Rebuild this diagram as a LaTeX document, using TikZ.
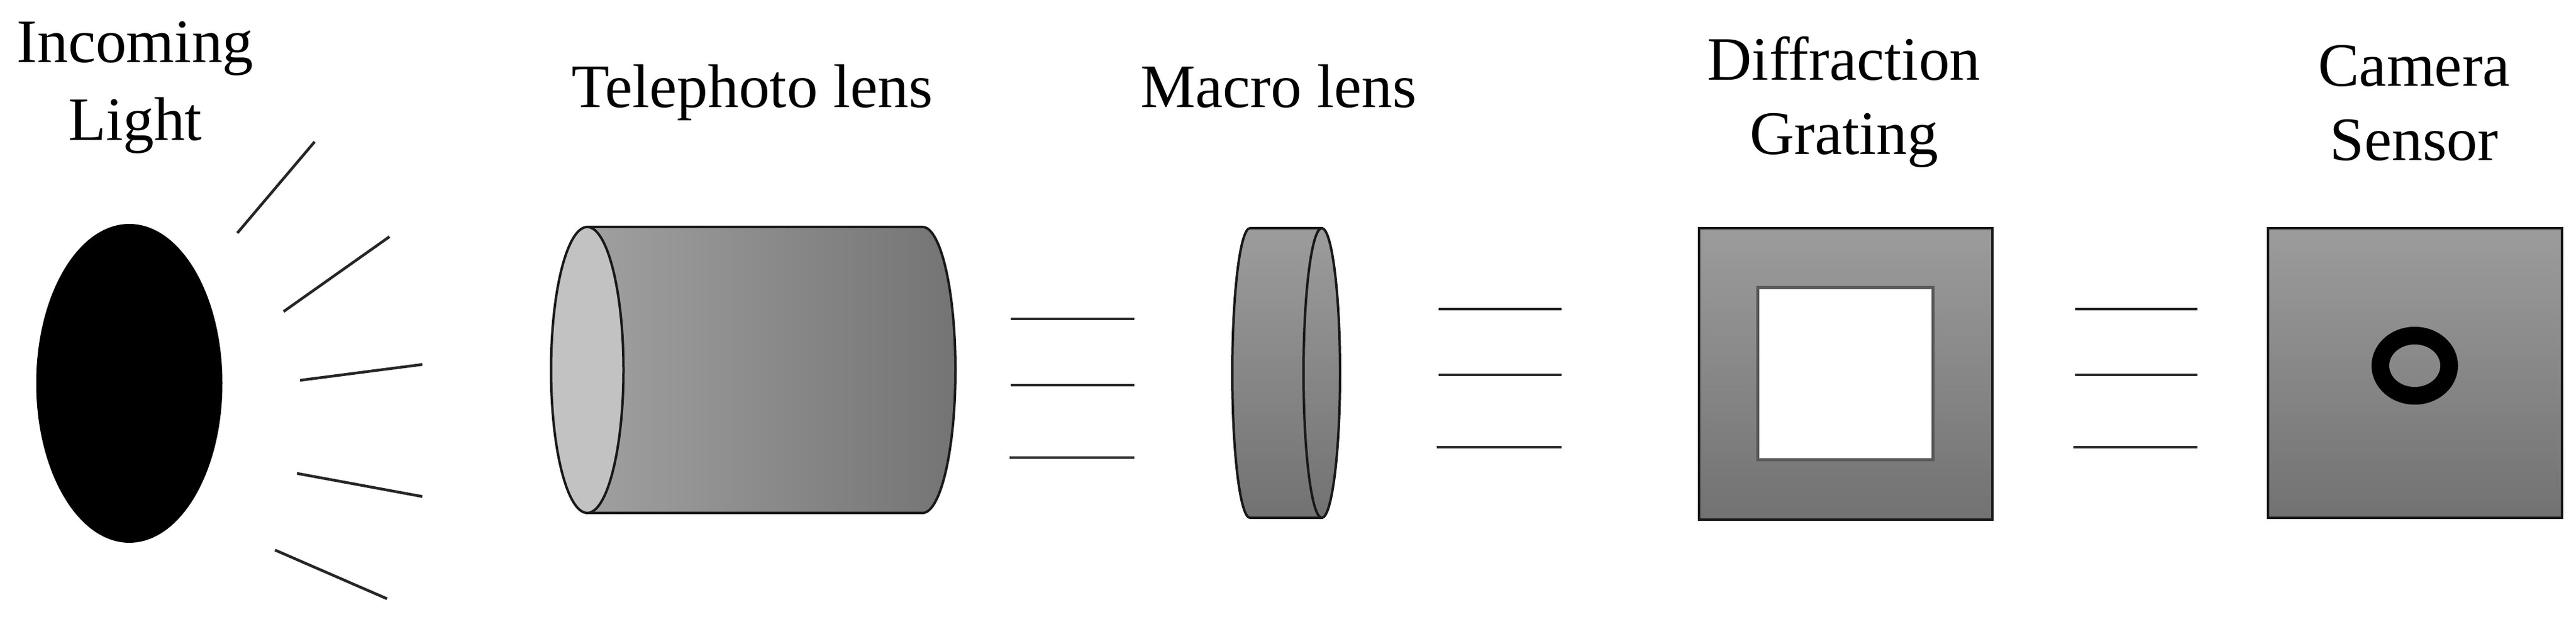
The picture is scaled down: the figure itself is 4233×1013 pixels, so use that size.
\documentclass[tikz,border=0pt]{standalone}
\usepackage{fontspec}
\setmainfont{Liberation Serif}
\tikzset{
  lbl/.style={anchor=base,align=center,inner sep=0pt,text=black,font=\fontsize{101.5bp}{122bp}\selectfont},
  ray/.style={draw=black!85,line width=4.5bp},
  edge/.style={draw=black!90,line width=4bp},
  vgrad/.style={top color=gray9,bottom color=gray6},
}
\definecolor{gray9}{HTML}{9C9C9C}
\definecolor{gray6}{HTML}{727272}
\definecolor{hgl}{HTML}{A0A0A0}
\definecolor{hgr}{HTML}{747474}
\definecolor{lens}{HTML}{C2C2C2}
\begin{document}
\begin{tikzpicture}[x=1bp,y=1bp]
\useasboundingbox (0,0) rectangle (4233,1013);
% source
\fill[black] (212.5,383) ellipse[x radius=153,y radius=262];
\draw[ray] (390,630) -- (517,780);
\draw[ray] (466,501) -- (640,624);
\draw[ray] (493,388) -- (694,414);
\draw[ray] (488,235) -- (694,197);
\draw[ray] (452,109) -- (636,29);
% telephoto lens
\draw[edge,left color=hgl,right color=hgr] (965,640) -- (1516,640) arc[start angle=90,end angle=-90,x radius=54,y radius=235] -- (965,170) -- cycle;
\draw[edge,fill=lens] (965,405) ellipse[x radius=59.5,y radius=235];
% beams 1
\draw[ray] (1661,489) -- (1864,489);
\draw[ray] (1661,380) -- (1864,380);
\draw[ray] (1659,261) -- (1864,261);
% macro lens
\draw[edge,vgrad] (2172,638) -- (2054,638) arc[start angle=90,end angle=270,x radius=29,y radius=238] -- (2172,162) -- cycle;
\draw[edge,vgrad] (2172,400) ellipse[x radius=30,y radius=238];
% beams 2
\draw[ray] (2364,505) -- (2566,505);
\draw[ray] (2364,397) -- (2566,397);
\draw[ray] (2361,278) -- (2566,278);
% grating
\draw[edge,vgrad] (2792,159) rectangle (3274,638);
\draw[draw=black!65,line width=5bp,fill=white] (2888,257) rectangle (3176,540);
% beams 3
\draw[ray] (3410,505) -- (3611,505);
\draw[ray] (3410,397) -- (3611,397);
\draw[ray] (3407,278) -- (3611,278);
% sensor
\draw[edge,vgrad] (3727,162) rectangle (4210,638);
\fill[black,even odd rule] (3968,412) ellipse[x radius=71,y radius=64] (3968,412) ellipse[x radius=42,y radius=35];
% labels
\node[lbl] (incoming) at (222,782) {Incoming\\[6bp]Light};
\node[lbl] (tele) at (1236,836) {Telephoto lens};
\node[lbl] (macro) at (2101,836) {Macro lens};
\node[lbl] (diff) at (3030,759) {Diffraction\\Grating};
\node[lbl] (cam) at (3967,749) {Camera\\Sensor};
\end{tikzpicture}
\end{document}
